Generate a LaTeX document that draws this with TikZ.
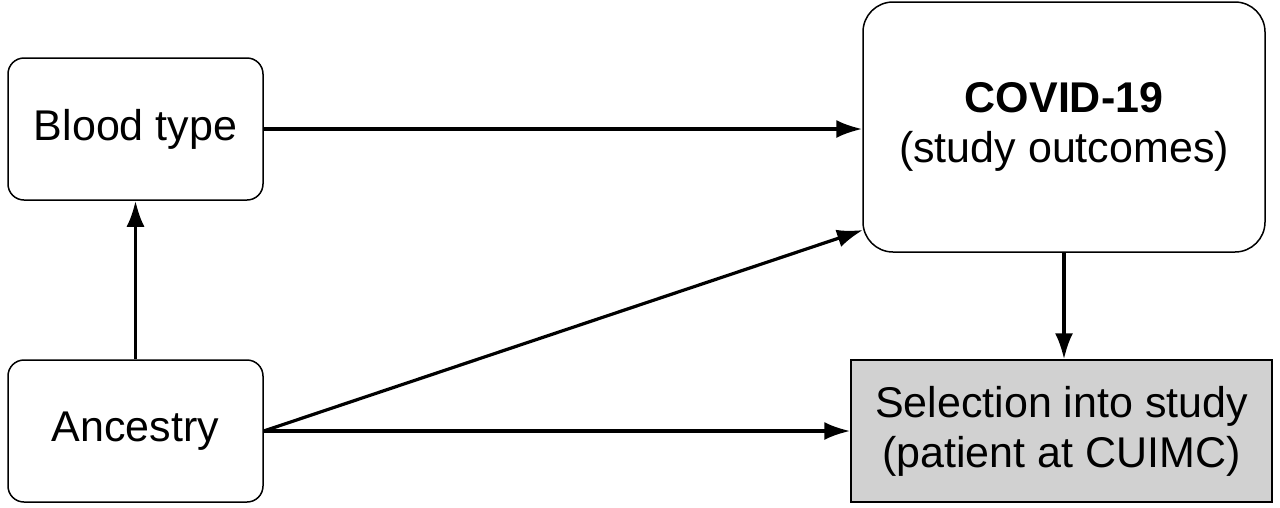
\documentclass[tikz,border=0pt]{standalone}
\usepackage{fontspec}
\setmainfont{Liberation Sans}
\usetikzlibrary{arrows.meta}
\begin{document}
\begin{tikzpicture}[x=1pt,y=-1pt,
  box/.style={draw=black,line width=1.5pt,rounded corners=16pt,align=center,font=\fontsize{43}{50}\selectfont,inner sep=0pt},
  arr/.style={line width=3.2pt,-{Latex[length=26pt,width=18pt]}}]
\useasboundingbox (0,0) rectangle (1280,507);
\node[box,minimum width=255pt,minimum height=142pt] (blood) at (135.5,129) {Blood type};
\node[box,minimum width=255pt,minimum height=142pt] (anc) at (135.5,431) {Ancestry};
\node[box,rounded corners=30pt,minimum width=402pt,minimum height=250pt] (covid) at (1064,127) {\textbf{COVID-19}\\(study outcomes)};
\node[box,rounded corners=0pt,fill=black!18,minimum width=421pt,minimum height=142pt] (sel) at (1061.5,431) {Selection into study\\(patient at CUIMC)};
\draw[arr] (blood.east) -- (covid.west |- blood.east);
\draw[arr] (anc.north) -- (blood.south);
\draw[arr] (anc.east) -- (sel.west);
\draw[arr] (anc.east) -- (863,230);
\draw[arr] (covid.south) -- (covid.south |- sel.north);
\end{tikzpicture}
\end{document}
